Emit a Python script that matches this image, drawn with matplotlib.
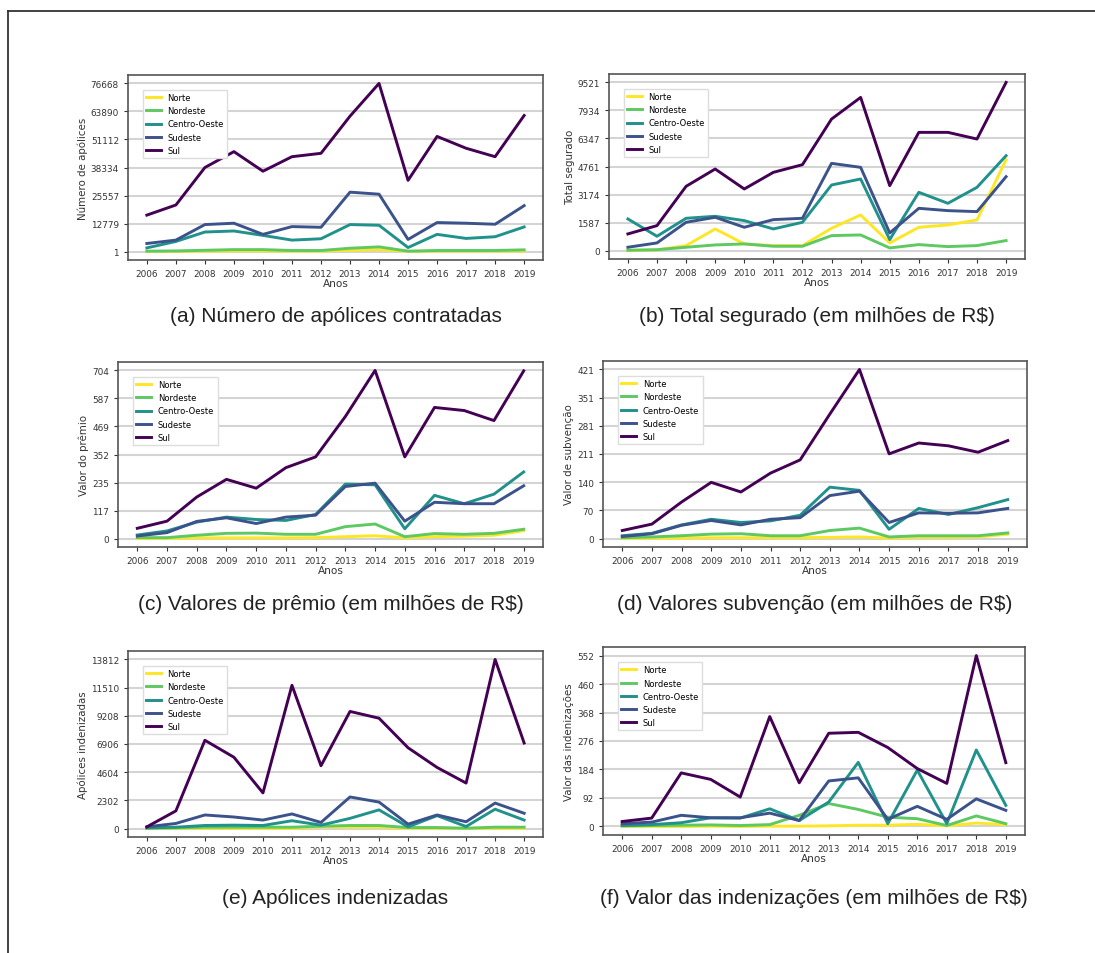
import numpy as np
import matplotlib.pyplot as plt
from matplotlib.lines import Line2D

anos = list(range(2006, 2020))
regioes = ["Norte", "Nordeste", "Centro-Oeste", "Sudeste", "Sul"]
cores = ["#fde725", "#5ec962", "#21918c", "#3b528b", "#440154"]

# (a) numero de apolices contratadas
apolices_norte = [1, 100, 200, 300, 300, 200, 200, 600, 900, 100, 200, 200, 200, 300]
apolices_nordeste = [200, 300, 600, 900, 900, 500, 500, 1540, 2150, 200, 500, 500, 500, 800]
apolices_centro = [1693, 4618, 8929, 9391, 7390, 5234, 5850, 12316, 12008, 1847, 7851, 6004, 6774, 11238]
apolices_sudeste = [3695, 5234, 12316, 12932, 7851, 11392, 11084, 27095, 26172, 5542, 13240, 12932, 12470, 20937]
apolices_sul = [16627, 21245, 38334, 45570, 36640, 43260, 44800, 61733, 76668, 32483, 52497, 47108, 43260, 62041]

# (b) total segurado
segurado_norte = [0, 40, 283, 1225, 377, 283, 283, 1263, 2017, 434, 1320, 1452, 1734, 5147]
segurado_nordeste = [20, 50, 189, 320, 377, 245, 245, 848, 886, 150, 339, 226, 283, 566]
segurado_centro = [1791, 811, 1829, 1942, 1697, 1225, 1602, 3714, 4053, 622, 3299, 2677, 3582, 5373]
segurado_sudeste = [189, 434, 1602, 1885, 1320, 1753, 1829, 4939, 4713, 999, 2394, 2262, 2206, 4185]
segurado_sul = [943, 1414, 3639, 4619, 3488, 4430, 4864, 7447, 8672, 3676, 6693, 6693, 6316, 9521.2]

# (c) valor do premio
premio_norte = [0, 1, 3, 3, 3, 3, 4, 8, 12, 3, 8, 10, 14, 33]
premio_nordeste = [4, 4, 14, 22, 23, 18, 18, 50, 61, 8, 21, 18, 22, 39]
premio_centro = [15, 32, 69, 90, 80, 76, 101, 228, 225, 41, 181, 146, 186, 279]
premio_sudeste = [11, 25, 72, 87, 63, 90, 98, 218, 232, 73, 152, 146, 146, 221]
premio_sul = [43, 73, 174, 248, 211, 297, 342, 511, 704, 342, 549, 536, 494, 702]

# (d) valor de subvencao
subvencao_norte = [0, 1, 1, 2, 2, 2, 2, 3, 4, 1, 3, 3, 4, 11]
subvencao_nordeste = [2, 4, 7, 11, 12, 7, 7, 20, 26, 4, 7, 7, 7, 14]
subvencao_centro = [7, 13, 34, 48, 40, 44, 58, 128, 120, 23, 75, 60, 77, 97]
subvencao_sudeste = [5, 12, 33, 45, 34, 48, 52, 107, 118, 40, 64, 63, 64, 75]
subvencao_sul = [20, 36, 91, 140, 116, 163, 196, 310, 421.2, 211, 238, 231, 215, 244]

# (e) apolices indenizadas
indenizadas_norte = [0, 10, 20, 20, 20, 20, 139, 111, 111, 20, 20, 10, 20, 20]
indenizadas_nordeste = [28, 55, 111, 111, 111, 111, 194, 250, 250, 83, 83, 28, 111, 111]
indenizadas_centro = [55, 111, 250, 277, 250, 638, 277, 832, 1525, 139, 1054, 166, 1581, 693]
indenizadas_sudeste = [139, 416, 1109, 943, 693, 1192, 499, 2579, 2163, 360, 1109, 555, 2080, 1248]
indenizadas_sul = [139, 1442, 7210, 5823, 2912, 11702, 5130, 9567, 9012, 6600, 4991, 3716, 13812, 6988]

# (f) valor das indenizacoes
indenizacoes_norte = [0, 0, 0, 1, 0, 1, 1, 2, 4, 4, 7, 2, 11, 6]
indenizacoes_nordeste = [2, 3, 4, 5, 3, 6, 36, 74, 55, 30, 25, 3, 34, 9]
indenizacoes_centro = [3, 6, 12, 28, 27, 57, 19, 79, 207, 9, 182, 9, 247, 68]
indenizacoes_sudeste = [9, 14, 36, 28, 28, 43, 19, 147, 157, 23, 65, 23, 89, 52]
indenizacoes_sul = [16, 27, 173, 152, 95, 355, 141, 301, 304, 255, 187, 139, 552, 206]

paineis = [
    ([apolices_norte, apolices_nordeste, apolices_centro, apolices_sudeste, apolices_sul],
     "Número de apólices", "(a) Número de apólices contratadas", (128, 76, 543, 261), 56),
    ([segurado_norte, segurado_nordeste, segurado_centro, segurado_sudeste, segurado_sul],
     "Total segurado", "(b) Total segurado (em milhões de R$)", (609, 75, 1025, 260), 57),
    ([premio_norte, premio_nordeste, premio_centro, premio_sudeste, premio_sul],
     "Valor do prêmio", "(c) Valores de prêmio (em milhões de R$)", (118, 363, 543, 548), 57),
    ([subvencao_norte, subvencao_nordeste, subvencao_centro, subvencao_sudeste, subvencao_sul],
     "Valor de subvenção", "(d) Valores subvenção (em milhões de R$)", (603, 362, 1027, 548), 57),
    ([indenizadas_norte, indenizadas_nordeste, indenizadas_centro, indenizadas_sudeste, indenizadas_sul],
     "Apólices indenizadas", "(e) Apólices indenizadas", (128, 652, 543, 838), 61),
    ([indenizacoes_norte, indenizacoes_nordeste, indenizacoes_centro, indenizacoes_sudeste, indenizacoes_sul],
     "Valor das indenizações", "(f) Valor das indenizações (em milhões de R$)", (603, 648, 1025, 836), 63),
]

W, H = 1095, 954
fig = plt.figure(figsize=(W / 100, H / 100), dpi=100)

def rect(x0, y0, x1, y1):
    return [x0 / W, 1 - y1 / H, (x1 - x0) / W, (y1 - y0) / H]

for series, ylabel, legenda, box, dy in paineis:
    ax = fig.add_axes(rect(*box))
    for nome, cor, valores in zip(regioes, cores, series):
        ax.plot(anos, valores, color=cor, lw=2.1, label=nome)
    todos = np.concatenate([np.array(s, dtype=float) for s in series])
    ticks = np.linspace(todos.min(), todos.max(), 7)
    ax.set_yticks(ticks)
    ax.set_yticklabels([str(round(t)) for t in ticks])
    ax.set_xticks(anos)
    ax.tick_params(labelsize=6.4, colors="#333333", length=3)
    ax.grid(axis="y", color="#d4d4d4", lw=1.5)
    ax.set_axisbelow(True)
    for s in ax.spines.values():
        s.set_color("#555555")
        s.set_linewidth(1.2)
    ax.set_ylabel(ylabel, fontsize=7.4, color="#333333", labelpad=2)
    ax.set_xlabel("Anos", fontsize=7.6, color="#333333", labelpad=0)
    ax.legend(loc="upper left", bbox_to_anchor=(0.035, 0.92), fontsize=6,
              handlelength=1.8, framealpha=1, edgecolor="#dddddd", fancybox=False,
              borderaxespad=0.0, labelspacing=0.5)
    cx = (box[0] + box[2]) / 2
    fig.text(cx / W, 1 - (box[3] + dy) / H, legenda, ha="center", va="center",
             fontsize=15, family="Liberation Sans", color="#222222")

# moldura da figura
fig.add_artist(Line2D([8 / W, 8 / W], [0, 1 - 12 / H], color="#333333", lw=1.3))
fig.add_artist(Line2D([8 / W, 1], [1 - 12 / H, 1 - 12 / H], color="#333333", lw=1.3))

fig.savefig("out.png", dpi=100)
